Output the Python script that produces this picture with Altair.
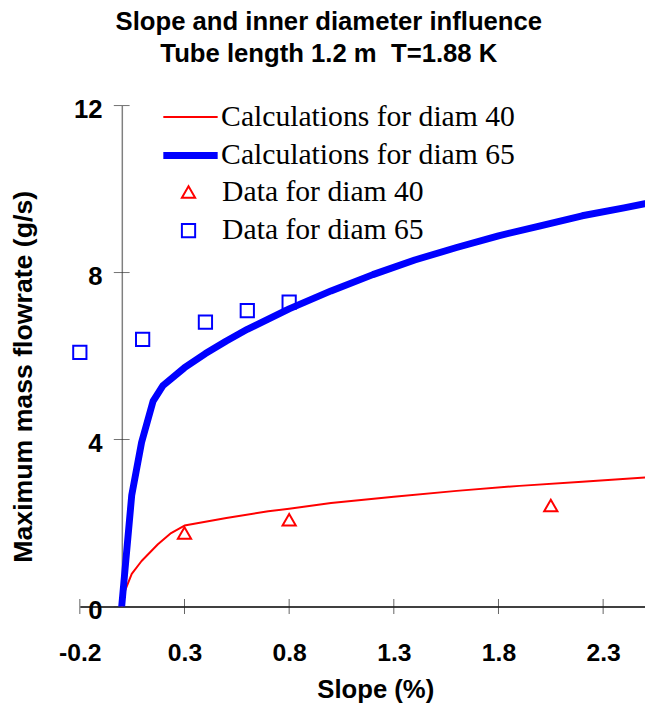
import altair as alt
import pandas as pd

# ---- data ----
calc_x40 = [0.0, 0.016, 0.048, 0.095, 0.173, 0.236, 0.3, 0.5, 0.7, 0.8, 1.0, 1.3, 1.6, 1.9, 2.2, 2.5]
calc_y40 = [0.0, 0.38, 0.78, 1.09, 1.49, 1.76, 1.94, 2.12, 2.28, 2.34, 2.48, 2.63, 2.77, 2.89, 2.99, 3.09]

calc_x65 = [0.0, 0.048, 0.095, 0.15, 0.197, 0.3, 0.4, 0.5, 0.6, 0.8, 1.0, 1.2, 1.4, 1.6, 1.8, 2.0, 2.2, 2.4, 2.5]
calc_y65 = [0.0, 2.67, 3.93, 4.92, 5.29, 5.72, 6.06, 6.36, 6.64, 7.13, 7.56, 7.95, 8.30, 8.60, 8.88, 9.12, 9.36, 9.55, 9.65]

data_x40 = [0.3, 0.8, 2.05]
data_y40 = [1.76, 2.08, 2.42]

data_x65 = [-0.2, 0.1, 0.4, 0.6, 0.8]
data_y65 = [6.09, 6.40, 6.81, 7.09, 7.29]

line_names = ["Calculations for diam 40", "Calculations for diam 65"]
point_names = ["Data for diam 40", "Data for diam 65"]

x_ticks = [-0.2, 0.3, 0.8, 1.3, 1.8, 2.3]
y_ticks = [0, 4, 8, 12]

title_lines = ["Slope and inner diameter influence", "Tube length 1.2 m\u00a0 T=1.88 K"]
x_title = "Slope (%)"
y_title = "Maximum mass flowrate (g/s)"

RED = "#ff0000"
BLUE = "#0000ff"
SANS = "Liberation Sans"
SERIF = "Liberation Serif"

# ---- tables ----
lines_df = pd.concat([
    pd.DataFrame({"x": calc_x40, "y": calc_y40, "series": line_names[0], "order": range(len(calc_x40))}),
    pd.DataFrame({"x": calc_x65, "y": calc_y65, "series": line_names[1], "order": range(len(calc_x65))}),
])
points_df = pd.concat([
    pd.DataFrame({"x": data_x40, "y": data_y40, "series": point_names[0]}),
    pd.DataFrame({"x": data_x65, "y": data_y65, "series": point_names[1]}),
])
xticks_df = pd.DataFrame({"x": x_ticks, "y": [0] * len(x_ticks)})
yticks_df = pd.DataFrame({"x": [0] * len(y_ticks), "y": y_ticks})

xscale = alt.Scale(domain=[-0.2, 2.5], nice=False, zero=False)
yscale = alt.Scale(domain=[0, 12], nice=False)

xaxis = alt.Axis(
    values=x_ticks,
    labelExpr="datum.value < 0 ? '-' + format(-datum.value, '.1f') : format(datum.value, '.1f')",
    ticks=False, tickSize=0, grid=False,
    labelPadding=35, labelFlush=False, labelOverlap=False,
    labelFont=SANS, labelFontSize=25, labelFontWeight="bold", labelColor="black",
    domainColor="black", domainWidth=1.5,
    title=x_title, titleFont=SANS, titleFontSize=26, titleFontWeight="bold", titleColor="black",
    titleX=299, titleY=92, titleAlign="center", titleBaseline="alphabetic",
)
yaxis = alt.Axis(
    values=y_ticks, format="d",
    offset=-42.5,
    ticks=False, tickSize=0, grid=False,
    labelPadding=20, labelOffset=4, labelBaseline="middle", labelOverlap=False,
    labelFont=SANS, labelFontSize=26, labelFontWeight="bold", labelColor="black",
    domainColor="#808080", domainWidth=1.5,
    title=y_title, titleFont=SANS, titleFontSize=27, titleFontWeight="bold", titleColor="black",
    titleX=-99, titleY=274, titleAngle=270, titleAlign="center", titleBaseline="middle",
)

x_enc = alt.X("x:Q", scale=xscale, axis=xaxis)
y_enc = alt.Y("y:Q", scale=yscale, axis=yaxis)

line_legend = alt.Legend(
    title=None, orient="none", legendX=81, legendY=-3, padding=0,
    symbolType="stroke", symbolSize=3025, clipHeight=29, rowPadding=8,
    labelFont=SERIF, labelFontSize=30, labelColor="black", labelOffset=0, labelLimit=600,
)
point_legend = alt.Legend(
    title=None, orient="none", legendX=95, legendY=73, padding=0,
    symbolSize=180, symbolStrokeWidth=2, clipHeight=29, rowPadding=8,
    labelFont=SERIF, labelFontSize=30, labelColor="black", labelOffset=19, labelLimit=600,
)

xtick_layer = alt.Chart(xticks_df).mark_tick(orient="vertical", size=15, thickness=1, color="#222222").encode(
    x=x_enc, y=y_enc
)
ytick_layer = alt.Chart(yticks_df).mark_tick(orient="horizontal", size=16, thickness=1, color="#333333").encode(
    x=x_enc, y=y_enc
)

lines = alt.Chart(lines_df).mark_line(strokeCap="round", strokeJoin="round", clip=True).encode(
    x=x_enc, y=y_enc,
    order="order:Q",
    color=alt.Color("series:N", scale=alt.Scale(domain=line_names, range=[RED, BLUE]), legend=line_legend),
    strokeWidth=alt.StrokeWidth("series:N", scale=alt.Scale(type="ordinal", domain=line_names, range=[2, 7]), legend=line_legend),
)

points = alt.Chart(points_df).mark_point(filled=False, strokeWidth=2, size=180, opacity=1).encode(
    x=x_enc, y=y_enc,
    color=alt.Color("series:N", scale=alt.Scale(domain=point_names, range=[RED, BLUE]), legend=point_legend),
    shape=alt.Shape("series:N", scale=alt.Scale(domain=point_names, range=["triangle-up", "square"]), legend=point_legend),
)

chart = alt.layer(xtick_layer, ytick_layer, lines, points).resolve_scale(
    color="independent", shape="independent", strokeWidth="independent"
).properties(
    width=572, height=507,
    title=alt.TitleParams(
        text=title_lines, font=SANS, fontSize=26, fontWeight="bold", color="black",
        anchor="middle", frame="group", offset=30, dx=-34, lineHeight=32,
    ),
    autosize=alt.AutoSizeParams(type="none"),
    padding={"left": 72.7, "top": 94.5, "right": 0, "bottom": 100},
    background="white",
).configure_view(stroke=None)

chart.save("out.html", embed_options={"renderer": "svg", "actions": False})
